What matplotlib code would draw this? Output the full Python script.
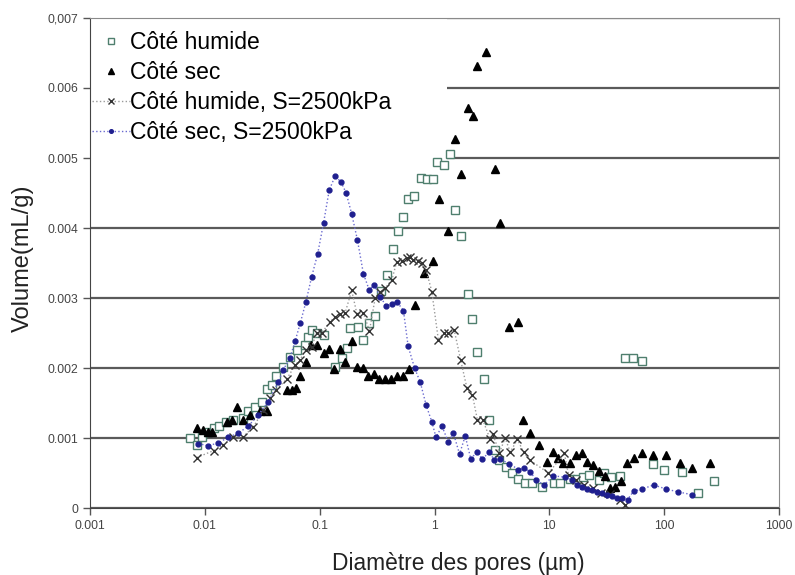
import numpy as np
import matplotlib.pyplot as plt
from matplotlib.ticker import NullLocator
from matplotlib.patches import Rectangle

plt.rcParams['font.family'] = ['Liberation Sans', 'DejaVu Sans']

#Côté humide (open squares) - diameter in um, volume in mL/g
d_hum = [0.0075, 0.0085, 0.0094, 0.0107, 0.0119, 0.0134, 0.0153, 0.0177, 0.0214, 0.0239,
         0.0274, 0.0313, 0.0346, 0.0382, 0.042, 0.0476, 0.055, 0.064, 0.0746, 0.0798,
         0.085, 0.094, 0.108, 0.136, 0.156, 0.174, 0.184, 0.214, 0.240, 0.271,
         0.304, 0.340, 0.384, 0.433, 0.485, 0.536, 0.593, 0.668, 0.764, 0.857,
         0.966, 1.06, 1.20, 1.35, 1.51, 1.69, 1.94, 2.11, 2.36, 2.67,
         2.99, 3.38, 3.67, 4.21, 4.71, 5.38, 6.15, 7.03, 8.7, 11.0,
         12.3, 15.2, 17.3, 19.8, 22.3, 26.8, 30.0, 34.3, 40.8, 45.1,
         53.3, 63.8, 79.6, 100, 144, 195, 273]
v_hum = [1.00, 0.90, 1.02, 1.09, 1.15, 1.17, 1.23, 1.26, 1.28, 1.38,
         1.44, 1.52, 1.70, 1.76, 1.88, 2.02, 2.16, 2.26, 2.33, 2.45,
         2.55, 2.50, 2.47, 2.02, 2.14, 2.28, 2.57, 2.59, 2.40, 2.65,
         2.74, 3.10, 3.33, 3.70, 3.96, 4.16, 4.42, 4.46, 4.72, 4.70,
         4.70, 4.95, 4.90, 5.06, 4.26, 3.89, 3.06, 2.70, 2.23, 1.85,
         1.26, 0.83, 0.69, 0.59, 0.50, 0.42, 0.36, 0.36, 0.30, 0.36,
         0.36, 0.42, 0.42, 0.44, 0.47, 0.40, 0.50, 0.45, 0.46, 2.15,
         2.15, 2.10, 0.63, 0.55, 0.52, 0.22, 0.39]

#Côté sec (filled triangles)
d_sec = [0.0085, 0.0097, 0.0107, 0.0115, 0.0155, 0.0171, 0.0191, 0.0214, 0.0247, 0.0303,
         0.0346, 0.052, 0.057, 0.062, 0.067, 0.076, 0.0836, 0.0955, 0.108, 0.121,
         0.134, 0.149, 0.166, 0.193, 0.213, 0.237, 0.266, 0.298, 0.331, 0.371,
         0.416, 0.469, 0.529, 0.605, 0.678, 0.811, 0.966, 1.10, 1.30, 1.51,
         1.69, 1.94, 2.15, 2.36, 2.81, 3.38, 3.72, 4.49, 5.38, 5.87,
         6.80, 8.19, 9.62, 10.7, 12.0, 13.1, 15.0, 17.1, 19.2, 21.4,
         23.9, 26.8, 30.2, 33.9, 37.4, 42.0, 47.3, 54.1, 64.0, 79.6,
         104, 138, 174, 252]
v_sec = [1.15, 1.11, 1.09, 1.08, 1.23, 1.26, 1.44, 1.26, 1.33, 1.38,
         1.38, 1.69, 1.69, 1.71, 1.89, 2.09, 2.33, 2.33, 2.21, 2.27,
         1.98, 2.27, 2.09, 2.38, 2.01, 2.00, 1.89, 1.92, 1.85, 1.85,
         1.85, 1.88, 1.89, 1.98, 2.90, 3.36, 3.53, 4.41, 3.96, 5.27,
         4.77, 5.72, 5.60, 6.31, 6.52, 4.84, 4.07, 2.59, 2.66, 1.26,
         1.07, 0.90, 0.66, 0.80, 0.71, 0.64, 0.64, 0.76, 0.78, 0.66,
         0.61, 0.53, 0.46, 0.28, 0.30, 0.38, 0.64, 0.71, 0.79, 0.76,
         0.76, 0.64, 0.57, 0.64]

#Côté humide, S=2500kPa (x markers, dotted line)
d_hum_s = [0.0085, 0.0119, 0.0145, 0.0177, 0.0216, 0.0265, 0.0324, 0.037, 0.042, 0.052,
           0.061, 0.067, 0.076, 0.085, 0.094, 0.104, 0.123, 0.136, 0.149, 0.166,
           0.190, 0.211, 0.240, 0.271, 0.304, 0.336, 0.371, 0.425, 0.469, 0.518,
           0.574, 0.613, 0.654, 0.724, 0.775, 0.845, 0.947, 1.08, 1.20, 1.32,
           1.48, 1.69, 1.91, 2.14, 2.36, 2.63, 3.05, 3.21, 3.67, 4.12,
           4.56, 5.27, 5.95, 6.80, 9.82, 13.5, 14.7, 17.0, 20.0, 24.0,
           28.0, 33.9, 41.4, 45.7]
v_hum_s = [0.72, 0.82, 0.90, 1.02, 1.02, 1.16, 1.40, 1.57, 1.69, 1.85,
           2.04, 2.11, 2.26, 2.30, 2.50, 2.50, 2.66, 2.73, 2.77, 2.78,
           3.11, 2.77, 2.79, 2.53, 3.00, 3.09, 3.14, 3.26, 3.52, 3.53,
           3.57, 3.59, 3.54, 3.53, 3.50, 3.40, 3.09, 2.40, 2.50, 2.50,
           2.55, 2.11, 1.72, 1.61, 1.26, 1.26, 0.98, 1.06, 0.79, 1.00,
           0.80, 0.98, 0.80, 0.68, 0.50, 0.78, 0.47, 0.40, 0.33, 0.28,
           0.22, 0.20, 0.11, 0.04]

#Côté sec, S=2500kPa (blue dots, dotted line)
d_sec_s = [0.0088, 0.0107, 0.0131, 0.016, 0.0196, 0.0239, 0.0292, 0.0357, 0.0436, 0.048,
           0.055, 0.061, 0.068, 0.076, 0.085, 0.096, 0.108, 0.121, 0.136, 0.153,
           0.170, 0.190, 0.213, 0.240, 0.269, 0.299, 0.336, 0.378, 0.425, 0.469,
           0.536, 0.589, 0.67, 0.75, 0.845, 0.947, 1.03, 1.16, 1.32, 1.46,
           1.65, 1.85, 2.07, 2.33, 2.61, 3.0, 3.30, 3.72, 4.49, 5.38,
           6.03, 6.80, 7.67, 9.0, 10.8, 13.7, 15.7, 17.4, 19.2, 21.2,
           23.4, 25.9, 28.6, 31.7, 35.0, 38.7, 42.8, 47.9, 54.0, 64.0,
           81.0, 104, 133, 174]
v_sec_s = [0.92, 0.89, 0.93, 1.01, 1.07, 1.17, 1.33, 1.52, 1.80, 1.97,
           2.14, 2.38, 2.65, 2.95, 3.30, 3.63, 4.07, 4.54, 4.74, 4.66,
           4.50, 4.20, 3.83, 3.35, 3.12, 3.18, 3.02, 2.89, 2.92, 2.95,
           2.82, 2.31, 2.00, 1.80, 1.47, 1.23, 1.01, 1.17, 0.94, 1.07,
           0.77, 1.03, 0.70, 0.80, 0.70, 0.80, 0.69, 0.70, 0.63, 0.55,
           0.57, 0.52, 0.40, 0.33, 0.46, 0.44, 0.40, 0.33, 0.30, 0.27,
           0.26, 0.23, 0.21, 0.19, 0.17, 0.15, 0.14, 0.12, 0.24, 0.27,
           0.33, 0.27, 0.23, 0.19]

x_ticks = [0.001, 0.01, 0.1, 1, 10, 100, 1000]
x_labels = ['0.001', '0.01', '0.1', '1', '10', '100', '1000']
y_ticks = [0, 0.001, 0.002, 0.003, 0.004, 0.005, 0.006, 0.007]
y_labels = ['0', '0.001', '0.002', '0.003', '0.004', '0.005', '0.006', '0,007']

#values were read in units of 0.001 mL/g
scale = 0.001

fig = plt.figure(figsize=(7.95, 5.75), dpi=100)
ax = fig.add_axes([0.1132, 0.1165, 0.8668, 0.8522])

ax.plot(d_hum, np.array(v_hum)*scale, 's', ms=5.8, mfc='white', mec='#4f7f6e', mew=1.0,
        ls='none', label='Côté humide', zorder=3)
ax.plot(d_sec, np.array(v_sec)*scale, '^', ms=5.8, color='black',
        ls='none', label='Côté sec', zorder=3)
ax.plot(d_hum_s, np.array(v_hum_s)*scale, marker='x', ms=5.5, mew=1.0, color='#9a9a9a',
        mec='#333333', ls=':', lw=1.0, label='Côté humide, S=2500kPa', zorder=3)
ax.plot(d_sec_s, np.array(v_sec_s)*scale, marker='o', ms=3.5, color='#6a6ad0',
        mfc='#1f1f8f', mec='#1f1f8f', ls=':', lw=1.0, label='Côté sec, S=2500kPa', zorder=3)

ax.set_xscale('log')
ax.set_xlim(0.001, 1000)
ax.set_ylim(0, 0.007)
ax.set_xticks(x_ticks)
ax.set_xticklabels(x_labels)
ax.xaxis.set_minor_locator(NullLocator())
ax.set_yticks(y_ticks)
ax.set_yticklabels(y_labels)
ax.tick_params(labelsize=8.7, labelcolor='#444444', color='#555555', length=5, width=1)

ax.grid(axis='y', color='#5a5a5a', lw=1.6)
ax.set_axisbelow(True)
for s in ax.spines.values():
    s.set_color('#8a8a8a')
ax.spines['left'].set_color('#444444')
ax.spines['bottom'].set_color('#444444')

#white block behind the legend hides the upper gridlines on the left
ax.add_patch(Rectangle((0, 0.710), 0.518, 0.29, transform=ax.transAxes,
                       facecolor='white', edgecolor='none', zorder=1.5))

ax.set_xlabel('Diamètre des pores (µm)', fontsize=16.4, color='#222222')
ax.xaxis.set_label_coords(0.534, -0.09)
ax.set_ylabel('Volume(mL/g)', fontsize=17, color='#222222')
ax.yaxis.set_label_coords(-0.081, 0.51)

leg = ax.legend(loc='upper left', bbox_to_anchor=(0.003, 0.973), borderaxespad=0,
                fontsize=16.5, frameon=False, handlelength=1.66, handletextpad=0.0,
                labelspacing=0.3, borderpad=0, markerscale=0.75)

fig.savefig('out.png', dpi=100)
